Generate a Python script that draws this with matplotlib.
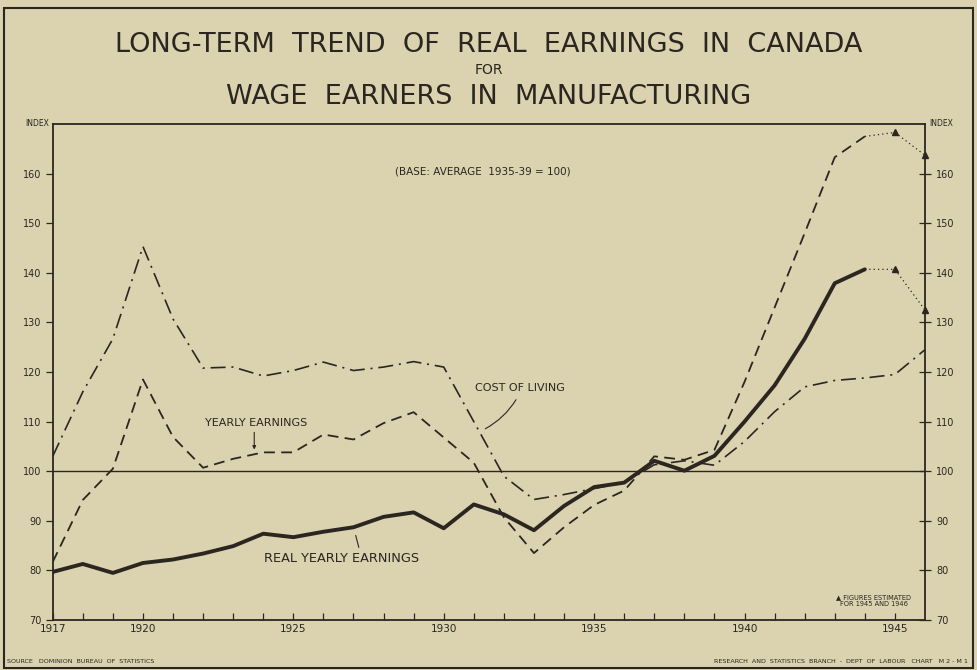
import numpy as np
import matplotlib.pyplot as plt
from matplotlib.patches import Rectangle

# index values (base: average 1935-39 = 100)
years = list(range(1917, 1945))
real_earnings = [79.7, 81.3, 79.5, 81.5, 82.2, 83.4, 84.9, 87.4, 86.7, 87.8,
                 88.7, 90.8, 91.7, 88.5, 93.3, 91.3, 88.1, 93.0, 96.8, 97.7,
                 102.1, 100.1, 103.1, 110.0, 117.3, 126.7, 137.9, 140.7]
yearly_earnings = [81.7, 94.2, 100.5, 118.5, 106.9, 100.7, 102.5, 103.8, 103.8, 107.4,
                   106.4, 109.7, 111.9, 106.8, 101.7, 90.7, 83.5, 88.7, 93.2, 96.1,
                   103.0, 102.3, 104.3, 118.0, 133.0, 148.0, 163.3, 167.5]
cost_years = list(range(1917, 1947))
cost_of_living = [103.0, 116.0, 126.7, 145.3, 130.7, 120.8, 121.0, 119.2, 120.3, 122.0,
                  120.3, 121.0, 122.1, 121.0, 110.0, 99.0, 94.3, 95.3, 96.5, 97.7,
                  101.3, 102.1, 101.2, 106.0, 112.0, 117.0, 118.3, 118.8, 119.5, 124.5]

# estimated figures for 1945 and 1946
est_years = [1944, 1945, 1946]
real_est = [140.7, 140.7, 132.5]
yearly_est = [167.5, 168.3, 163.7]

y_ticks = list(range(70, 170, 10))
x_labels = [1917, 1920, 1925, 1930, 1935, 1940, 1945]

paper = "#dbd2b0"
ink = "#2b2620"
font = ["DejaVu Sans"]

fig = plt.figure(figsize=(9.78, 6.7), dpi=100, facecolor=paper)
ax = fig.add_axes([0.0539, 0.0746, 0.8919, 0.7403], facecolor=paper)

# cost of living: dash-dot
ax.plot(cost_years, cost_of_living, color=ink, lw=1.2,
        dashes=(9, 3.5, 1.2, 3.5), clip_on=False)
# yearly earnings: dashed
ax.plot(years, yearly_earnings, color=ink, lw=1.3, dashes=(6, 3.5))
# real yearly earnings: heavy solid
ax.plot(years, real_earnings, color=ink, lw=2.8, solid_capstyle="round")

# estimates, dotted with triangles
for vals in (real_est, yearly_est):
    ax.plot(est_years, vals, color=ink, lw=0.9, ls=(0, (1, 2.5)), clip_on=False)
    ax.plot(est_years[1:], vals[1:], ls="none", marker="^", ms=5,
            color=ink, clip_on=False)

ax.axhline(100, color=ink, lw=1.0)

ax.set_xlim(1917, 1946)
ax.set_ylim(70, 170)
for s in ax.spines.values():
    s.set_color(ink)
    s.set_linewidth(1.3)

ax.set_xticks(range(1917, 1946))
ax.set_xticklabels([str(y) if y in x_labels else "" for y in range(1917, 1946)],
                   fontsize=7.5, color=ink, family=font)
ax.tick_params(axis="x", direction="in", length=5, width=0.9, color=ink, pad=3)
ax.set_yticks(y_ticks)
ax.set_yticklabels([str(v) for v in y_ticks], fontsize=7, color=ink, family=font)
ax.tick_params(axis="y", direction="out", length=5, width=0.9, color=ink, pad=3,
               right=False)

ax_r = ax.twinx()
ax_r.set_ylim(70, 170)
ax_r.set_yticks(y_ticks)
ax_r.set_yticklabels([str(v) for v in y_ticks], fontsize=7, color=ink, family=font)
ax_r.tick_params(axis="y", direction="inout", length=8, width=0.9, color=ink, pad=4)
for s in ax_r.spines.values():
    s.set_visible(False)

# labels on the chart
ax.text(1931.3, 160.5, "(BASE: AVERAGE  1935-39 = 100)", fontsize=7.5, color=ink,
        ha="center", va="center", family=font)
ax.text(1932.55, 116.8, "COST OF LIVING", fontsize=8, color=ink,
        ha="center", va="center", family=font)
ax.annotate("", xy=(1931.3, 108.3), xytext=(1932.45, 114.9),
            arrowprops=dict(arrowstyle="-", color=ink, lw=0.8,
                            connectionstyle="arc3,rad=-0.15"))
ax.text(1923.77, 109.7, "YEARLY EARNINGS", fontsize=8, color=ink,
        ha="center", va="center", family=font)
ax.annotate("", xy=(1923.7, 103.8), xytext=(1923.7, 108.4),
            arrowprops=dict(arrowstyle="-|>", color=ink, lw=0.8, mutation_scale=5))
ax.text(1926.6, 82.5, "REAL YEARLY EARNINGS", fontsize=9.3, color=ink,
        ha="center", va="center", family=font)
ax.annotate("", xy=(1927.05, 87.6), xytext=(1927.2, 84.1),
            arrowprops=dict(arrowstyle="-", color=ink, lw=0.8))
ax.text(1944.3, 74.0, "\u25b2 FIGURES ESTIMATED\nFOR 1945 AND 1946", fontsize=4.8,
        color=ink, ha="center", va="center", family=font, linespacing=1.2)

# INDEX captions above the scales
fig.text(0.050, 0.815, "INDEX", fontsize=5.5, color=ink, ha="right",
         va="center", family=font)
fig.text(0.950, 0.815, "INDEX", fontsize=5.5, color=ink, ha="left",
         va="center", family=font)

# titles
fig.text(0.5, 0.933, "LONG-TERM  TREND  OF  REAL  EARNINGS  IN  CANADA",
         fontsize=19.5, color=ink, ha="center", va="center", family=font)
fig.text(0.5, 0.895, "FOR", fontsize=10, color=ink, ha="center", va="center",
         family=font)
fig.text(0.5, 0.855, "WAGE  EARNERS  IN  MANUFACTURING", fontsize=19.5, color=ink,
         ha="center", va="center", family=font)

# footers
fig.text(0.007, 0.009, "SOURCE   DOMINION  BUREAU  OF  STATISTICS", fontsize=4.6,
         color=ink, ha="left", va="bottom", family=font)
fig.text(0.990, 0.009,
         "RESEARCH  AND  STATISTICS  BRANCH  -  DEPT  OF  LABOUR   CHART   M 2 - M 1",
         fontsize=4.6, color=ink, ha="right", va="bottom", family=font)

# outer frame
fig.patches.append(Rectangle((0.004, 0.003), 0.991, 0.985, transform=fig.transFigure,
                             fill=False, edgecolor=ink, lw=1.5))

fig.savefig("out.png", dpi=100, facecolor=paper)
